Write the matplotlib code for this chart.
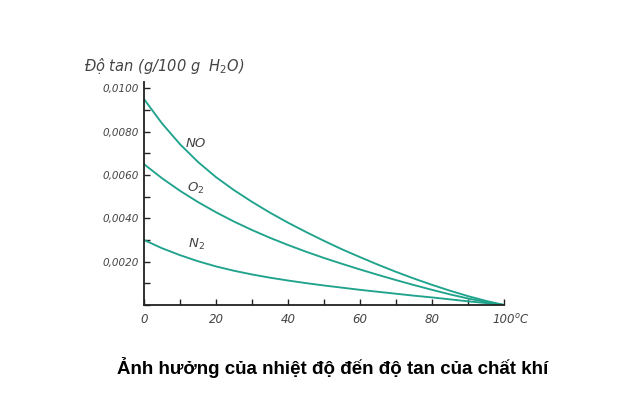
import matplotlib.pyplot as plt
from matplotlib.ticker import MultipleLocator, FixedLocator

# nhiet do (do C)
nhietDo = [0, 5, 10, 15, 20, 25, 30, 35, 40, 45, 50, 55, 60, 65, 70, 75, 80, 85, 90, 95, 100]

# do tan (g/100 g H2O)
doTanNO = [0.00950, 0.00838, 0.00742, 0.00660, 0.00590, 0.00530, 0.00476, 0.00426, 0.00380, 0.00337, 0.00296,
           0.00257, 0.00221, 0.00186, 0.00153, 0.00122, 0.00093, 0.00066, 0.00041, 0.00019, 0.0]
doTanO2 = [0.00650, 0.00585, 0.00527, 0.00475, 0.00428, 0.00385, 0.00346, 0.00310, 0.00277, 0.00246, 0.00217,
           0.00190, 0.00164, 0.00139, 0.00115, 0.00092, 0.00070, 0.00049, 0.00030, 0.00014, 0.0]
doTanN2 = [0.00300, 0.00262, 0.00230, 0.00202, 0.00178, 0.00158, 0.00141, 0.00126, 0.00113, 0.00101, 0.00090,
           0.00080, 0.00070, 0.00061, 0.00052, 0.00043, 0.00035, 0.00026, 0.00017, 0.00009, 0.0]

nhanX = ["0", "20", "40", "60", "80", "100"]
nhanY = ["0,0020", "0,0040", "0,0060", "0,0080", "0,0100"]

mau = "#1fa38c"
mauChu = "#444444"

fig = plt.figure(figsize=(6.4, 4), dpi=100)
ax = fig.add_axes([0.225, 0.2375, 0.5625, 0.558])

for y in (doTanNO, doTanO2, doTanN2):
    ax.plot(nhietDo, y, color=mau, lw=1.35, solid_joinstyle="round")

ax.set_xlim(0, 100)
ax.set_ylim(0, 0.0103)

ax.spines["top"].set_visible(False)
ax.spines["right"].set_visible(False)
for s in ("left", "bottom"):
    ax.spines[s].set_linewidth(1.3)
    ax.spines[s].set_color("#222222")

ax.xaxis.set_major_locator(FixedLocator([0, 20, 40, 60, 80, 100]))
ax.xaxis.set_minor_locator(MultipleLocator(10))
ax.set_xticklabels(nhanX, fontstyle="italic", fontsize=8.5, color=mauChu)
ax.yaxis.set_major_locator(FixedLocator([0.002, 0.004, 0.006, 0.008, 0.010]))
ax.yaxis.set_minor_locator(MultipleLocator(0.001))
ax.set_yticklabels(nhanY, fontstyle="italic", fontsize=7.5, color=mauChu)
ax.tick_params(which="both", direction="in", length=4, width=1, color="#222222")
ax.tick_params(axis="x", pad=6)
ax.tick_params(axis="y", pad=4)

ax.annotate("$^o$C", xy=(100, 0), xycoords="data", xytext=(7, -11), textcoords="offset points",
            fontstyle="italic", fontsize=8.5, color=mauChu, va="center", ha="left")

ax.text(-0.167, 1.07, "Độ tan (g/100 g  H$_2$O)", transform=ax.transAxes, fontstyle="italic",
        fontsize=10.5, color=mauChu, va="center", ha="left")

ax.text(14.5, 0.00743, "NO", fontstyle="italic", fontsize=9.5, color=mauChu, ha="center", va="center")
ax.text(14.5, 0.0054, "O$_2$", fontstyle="italic", fontsize=9.5, color=mauChu, ha="center", va="center")
ax.text(14.5, 0.0028, "N$_2$", fontstyle="italic", fontsize=9.5, color=mauChu, ha="center", va="center")

fig.text(0.52, 0.082, "Ảnh hưởng của nhiệt độ đến độ tan của chất khí", fontsize=13.5,
         fontweight="bold", family="Liberation Sans", ha="center", va="center")

fig.savefig("out.png", dpi=100)
